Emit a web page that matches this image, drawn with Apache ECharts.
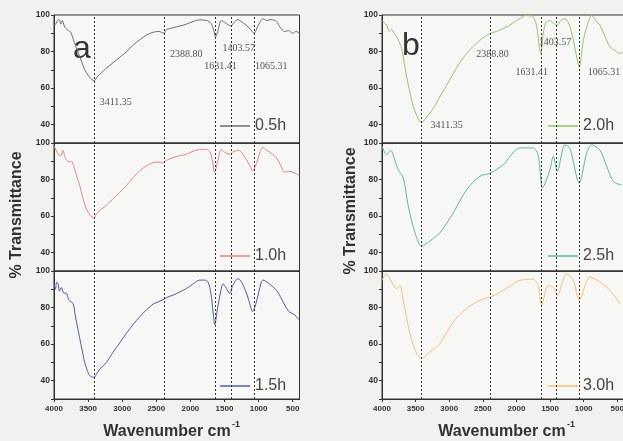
<!DOCTYPE html>
<html><head><meta charset="utf-8">
<script src="https://cdn.jsdelivr.net/npm/echarts@6/dist/echarts.min.js"></script>
<style>html,body{margin:0;padding:0;background:#f1f1ef}#c{width:623px;height:441px}</style>
</head><body><div id="c"></div>
<script>
// ---- data ----
const seriesNames = ['0.5h', '1.0h', '1.5h', '2.0h', '2.5h', '3.0h'];

const wn05 = [4000,3985,3950,3926,3900,3878,3850,3829,3790,3755,3720,3682,3620,3560,3480,3411,3370,3326,3230,3130,3030,2935,2840,2740,2645,2545,2460,2388,2350,2260,2150,2060,1960,1864,1760,1700,1660,1631,1600,1546,1500,1440,1403,1370,1300,1277,1200,1140,1065,1010,935,880,820,739,680,620,560,500,450,400];
const t05  = [95,94.6,97,97.5,95,97,94,92.8,91.5,90.6,87,83,77,71,66,64,66,67.6,71,74,77,80,83.5,86.5,89,90.6,91,90,92,93,94,95,96.5,97.3,97,95.5,92,88,91,97,96,94.5,94,95.5,97.5,97,95,93,90,94,98,97,97.5,96.5,93,91,91.5,90,91,90];

const wn10 = [4000,3970,3941,3900,3868,3840,3818,3780,3745,3697,3660,3623,3570,3526,3470,3414,3380,3330,3230,3135,3037,2938,2842,2743,2645,2548,2450,2400,2352,2255,2159,2059,1960,1864,1760,1717,1680,1644,1600,1546,1500,1424,1380,1302,1250,1179,1120,1090,1040,935,880,800,739,680,617,550,495,440,400];
const t10  = [98.3,96,93.8,93,96,92,91,89.5,90,85.7,81,76.7,69,64,60.5,59,61,63,66,69.5,73,76.7,81,84.8,87.5,89.3,89.5,89,90.5,92,93,93.8,95.5,96.5,96.5,95.5,91,84,90,96.5,95,93.8,95,96,95,91,87,84.8,88,97.6,96,94,92,88,84,84.5,84,83,82];

const wn15 = [4000,3980,3960,3941,3920,3892,3860,3818,3780,3721,3690,3648,3600,3550,3510,3477,3414,3370,3330,3232,3135,3037,2938,2842,2743,2645,2540,2416,2350,2255,2160,2059,1960,1864,1780,1742,1700,1660,1644,1600,1546,1522,1480,1424,1380,1302,1250,1179,1120,1090,1040,960,935,860,739,680,617,560,519,470,422,400];
const t15  = [93,90,94,93,89,91,88,87.7,84,82.3,76,68,59,50,45.5,42.8,41.8,44,46.3,50,55.5,60.7,66,70.6,75,78.7,82,84,85.5,86.8,88.5,90.4,93,95,95,94,88,75,70.6,80,90.5,93,91,87.7,92,95.8,94,88,81,77.8,82,94,95,93.5,89.5,86,81.4,78,77,76,74,73.5];

const wn20 = [4000,3960,3932,3890,3857,3820,3783,3740,3708,3670,3634,3580,3535,3470,3411,3350,3287,3210,3138,3040,2940,2840,2741,2640,2543,2460,2384,2300,2196,2100,1997,1900,1873,1800,1750,1700,1640,1600,1560,1502,1450,1393,1340,1278,1230,1179,1120,1066,1010,955,881,820,757,680,608,530,460,400];
const t20  = [97,95.5,94.4,91,92,90,88,85,81.7,74,66.3,57,50,44,41,43.5,46.4,50.5,55.4,61.5,68,74,79,83,86.2,88.5,90,91,92.6,94.5,97,99,99.8,99.5,99,94,79,90,96,97,95.5,94.4,97,98,96,90.4,80,71.7,85,93.5,99.7,97,94.4,88,82.6,80.5,79,80];

const wn25 = [4000,3932,3872,3808,3759,3684,3609,3510,3411,3287,3138,2940,2741,2543,2384,2196,1947,1750,1675,1611,1502,1452,1393,1278,1204,1066,955,881,757,658,558,434];
const t25  = [98.2,93.6,96,90.5,85.4,81,65.5,51,43.6,46.4,51,61.8,74.5,81.8,83.6,88.2,97.3,97.3,93,75.5,85.4,92.7,84.6,99,97,78.2,94.5,99,96,87.3,79,77];

const wn30 = [4000,3932,3857,3783,3733,3684,3584,3485,3411,3287,3138,2940,2741,2543,2384,2196,1947,1750,1675,1626,1527,1452,1393,1254,1155,1066,906,757,608,460];
const t30  = [94.9,98.5,94,90.4,92,84,65.8,55,52.2,55.8,60.4,72.2,79.5,84,85.8,89.4,94.9,95.5,92,81.3,92.2,91,86.5,98.5,95,84,96.7,94,89.4,82.2];

const peakPositions = [3411.35, 2388.80, 1631.41, 1403.57, 1065.31];
const peakLabels = ['3411.35', '2388.80', '1631.41', '1403.57', '1065.31'];
const xTickLabels = [4000, 3500, 3000, 2500, 2000, 1500, 1000, 500];
const yTickLabels = [40, 60, 80, 100];
const panelLetters = ['a', 'b'];

// ---- layout / style ----
const wnAll = [wn05, wn10, wn15, wn20, wn25, wn30];
const tAll = [t05, t10, t15, t20, t25, t30];
const colors = ['#6e6e6e', '#e98585', '#4f5fa8', '#93c46a', '#5fb7a6', '#f2c47a'];
const panels = [{ left: 54, width: 245.5 }, { left: 382, width: 242 }];
const rowTops = [15, 143, 271];
const rowH = 128;
const annot = [
  [[3095, 52], [2062, 78.4], [1560, 72], [1292, 81.5], [815, 72]],
  [[3039, 39.4], [2357, 78.4], [1774, 68.4], [1427, 84.8], [698, 68.4]]
];
const legendTops = [118, 248, 378];
const legendLefts = [220, 548];

const grids = [], xAxes = [], yAxes = [], series = [], legends = [];
const tickFont = { fontFamily: 'Liberation Sans Narrow, Liberation Sans', fontWeight: 'bold', color: '#333' };

for (let i = 0; i < 6; i++) {
  const p = Math.floor(i / 3), r = i % 3;
  grids.push({ left: panels[p].left, width: panels[p].width, top: rowTops[r], height: rowH,
    containLabel: false, outerBoundsMode: 'none',
    show: true, borderColor: '#333', borderWidth: 1, backgroundColor: '#f7f7f5' });
  const bottom = r === 2;
  xAxes.push({
    type: 'value', gridIndex: i, min: 400, max: 4000, inverse: true,
    axisLine: { show: true, onZero: false, lineStyle: { color: '#333', width: 1 } },
    splitLine: { show: false },
    axisTick: { show: bottom, length: 3, lineStyle: { color: '#333' }, customValues: xTickLabels },
    minorTick: { show: false },
    axisLabel: { show: bottom, customValues: xTickLabels, fontSize: 8, margin: 6, ...tickFont,
      formatter: v => String(v) }
  });
  yAxes.push({
    type: 'value', gridIndex: i, min: 30, max: 100, interval: 10,
    axisLine: { show: true, lineStyle: { color: '#333', width: 1 } },
    splitLine: { show: false },
    axisTick: { show: true, length: 3, lineStyle: { color: '#333' } },
    axisLabel: { fontSize: 8.5, margin: 4, ...tickFont,
      formatter: v => (yTickLabels.indexOf(v) >= 0 ? String(v) : '') }
  });
  const s = {
    name: seriesNames[i], type: 'line', xAxisIndex: i, yAxisIndex: i,
    data: wnAll[i].map((w, k) => [w, tAll[i][k]]),
    showSymbol: false, symbol: 'none', smooth: 0.3,
    lineStyle: { color: colors[i], width: 1 }, itemStyle: { color: colors[i] },
    markLine: {
      silent: true, symbol: ['none', 'none'], label: { show: false },
      lineStyle: { color: '#333', type: [2, 2], width: 1 },
      data: peakPositions.map(v => ({ xAxis: v }))
    }
  };
  if (r === 0) {
    s.markPoint = {
      silent: true, symbol: 'circle', symbolSize: 0,
      label: { show: true, position: 'inside', fontFamily: 'Liberation Serif', fontSize: 10, color: '#555',
        formatter: q => q.name },
      data: peakLabels.map((t, k) => ({ name: t, coord: annot[p][k] }))
    };
  }
  series.push(s);
  legends.push({
    data: [seriesNames[i]], left: legendLefts[p], top: legendTops[r], padding: 0,
    icon: 'rect', itemWidth: 30, itemHeight: 1.5, itemGap: 0, selectedMode: false,
    textStyle: { fontSize: 16, color: '#444', fontFamily: 'Liberation Sans' }
  });
}

const graphic = [
  { type: 'text', style: { text: panelLetters[0], x: 73, y: 49, font: '32px Liberation Sans', fill: '#333', verticalAlign: 'middle' } },
  { type: 'text', style: { text: panelLetters[1], x: 402, y: 46, font: '32px Liberation Sans', fill: '#333', verticalAlign: 'middle' } },
  { type: 'text', x: 16.5, y: 215, rotation: Math.PI / 2, style: { text: '% Transmittance', font: 'bold 16px Liberation Sans', fill: '#333', align: 'center', verticalAlign: 'middle' } },
  { type: 'text', x: 351, y: 211, rotation: Math.PI / 2, style: { text: '% Transmittance', font: 'bold 16px Liberation Sans', fill: '#333', align: 'center', verticalAlign: 'middle' } },
  { type: 'text', style: { text: 'Wavenumber cm', x: 167, y: 432, font: 'bold 16px Liberation Sans', fill: '#333', align: 'center', verticalAlign: 'middle' } },
  { type: 'text', style: { text: '-1', x: 232, y: 425, font: 'bold 9px Liberation Sans', fill: '#333', align: 'left', verticalAlign: 'middle' } },
  { type: 'text', style: { text: 'Wavenumber cm', x: 502, y: 432, font: 'bold 16px Liberation Sans', fill: '#333', align: 'center', verticalAlign: 'middle' } },
  { type: 'text', style: { text: '-1', x: 567, y: 425, font: 'bold 9px Liberation Sans', fill: '#333', align: 'left', verticalAlign: 'middle' } }
];

const chart = echarts.init(document.getElementById('c'), null, { renderer: 'canvas' });
chart.setOption({
  backgroundColor: '#f1f1ef', animation: false,
  grid: grids, xAxis: xAxes, yAxis: yAxes, series: series, legend: legends, graphic: graphic
});
</script></body></html>
